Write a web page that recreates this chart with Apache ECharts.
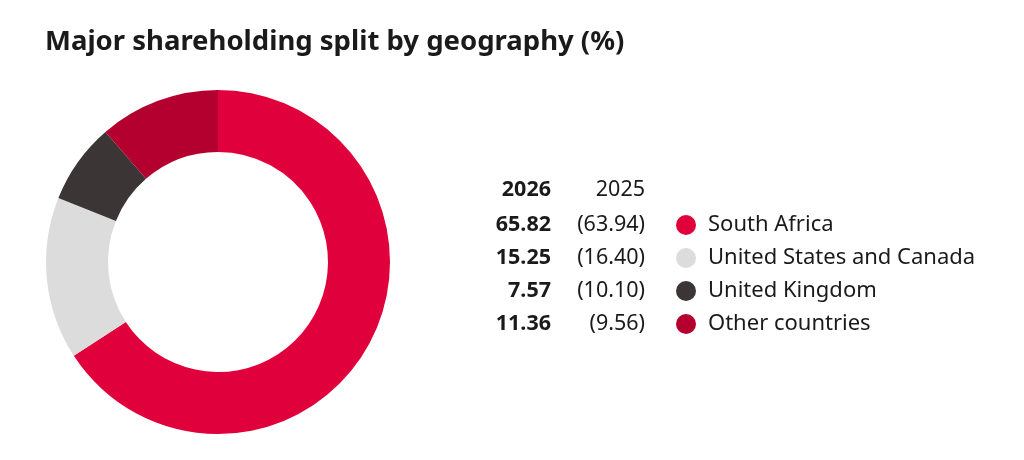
<!DOCTYPE html>
<html><head><meta charset="utf-8">
<script src="https://cdn.jsdelivr.net/npm/echarts@6/dist/echarts.min.js"></script>
<style>html,body{margin:0;padding:0;background:#fff}#c{width:1024px;height:460px}</style>
</head><body><div id="c"></div>
<script>
const categories = ["South Africa","United States and Canada","United Kingdom","Other countries"];
const values2026 = [65.82,15.25,7.57,11.36];
const values2025 = [63.94,16.40,10.10,9.56];
const labels2025 = ["(63.94)","(16.40)","(10.10)","(9.56)"];
const colors = ["#E0003B","#DCDCDC","#3B3536","#B3002F"];
const F = "Noto Sans";
const chart = echarts.init(document.getElementById('c'));
const g = [
  {type:'text',left:45,top:28,style:{text:"Major shareholding split by geography (%)",font:"bold 27.5px "+F,fill:"#1a1a1a"}},
  {type:'text',x:551,y:190,style:{text:"2026",font:"bold 21.5px "+F,fill:"#1a1a1a",align:'right',verticalAlign:'middle'}},
  {type:'text',x:645,y:190,style:{text:"2025",font:"21.5px "+F,fill:"#1a1a1a",align:'right',verticalAlign:'middle'}}
];
categories.forEach((c,i)=>{
  const y = 225 + i*33;
  g.push({type:'text',x:551,y:y,style:{text:values2026[i].toFixed(2),font:"bold 21.5px "+F,fill:"#1a1a1a",align:'right',verticalAlign:'middle'}});
  g.push({type:'text',x:645,y:y,style:{text:labels2025[i],font:"21.5px "+F,fill:"#1a1a1a",align:'right',verticalAlign:'middle'}});
  g.push({type:'circle',shape:{cx:686,cy:y,r:10},style:{fill:colors[i]}});
  g.push({type:'text',x:708,y:y,style:{text:c,font:"22px "+F,fill:"#1a1a1a",align:'left',verticalAlign:'middle'}});
});
chart.setOption({
  animation:false,
  graphic:g,
  series:[{type:'pie',center:[218,262],radius:[110,172],startAngle:90,clockwise:true,
    label:{show:false},labelLine:{show:false},silent:true,
    data:categories.map((c,i)=>({name:c,value:values2026[i],itemStyle:{color:colors[i]}}))}]
});
</script></body></html>
